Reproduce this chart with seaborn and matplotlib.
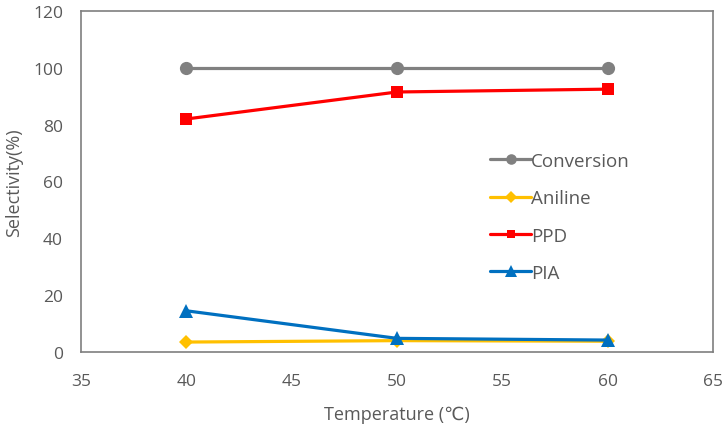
import matplotlib
matplotlib.use("Agg")
import matplotlib.pyplot as plt
import seaborn as sns
import pandas as pd

temperature = [40, 50, 60]
conversion = [100, 100, 100]
aniline = [3.5, 4.0, 3.8]
ppd = [82.0, 91.5, 92.5]
pia = [14.5, 4.8, 4.2]

series_names = ["Conversion", "Aniline", "PPD", "PIA"]
series_values = [conversion, aniline, ppd, pia]
colors = ["#808080", "#FFC000", "#FF0000", "#0070C0"]
markers = ["o", "D", "s", "^"]
msizes = [9.5, 7.5, 8, 10.5]

x_ticks = [35, 40, 45, 50, 55, 60, 65]
y_ticks = [0, 20, 40, 60, 80, 100, 120]

sns.set_theme(style="white")
plt.rcParams['font.family'] = ['Open Sans', 'DejaVu Sans']
text_color = "#595959"

fig = plt.figure(figsize=(7.25, 4.27), dpi=100)
ax = fig.add_axes([81/725, 1-353/427, (713-81)/725, (353-12)/427])

for name, vals, c, m, ms in zip(series_names, series_values, colors, markers, msizes):
    df = pd.DataFrame({"Temperature": temperature, "Value": vals})
    sns.lineplot(data=df, x="Temperature", y="Value", ax=ax, color=c, marker=m,
                 markersize=ms, markeredgewidth=0, linewidth=2.3, label=name)

ax.set_xlim(35, 65)
ax.set_ylim(0, 120)
ax.set_xticks(x_ticks)
ax.set_yticks(y_ticks)
ax.tick_params(axis="x", length=0, labelsize=12.5, colors=text_color, pad=15)
ax.tick_params(axis="y", length=0, labelsize=12.5, colors=text_color, pad=13)
ax.set_xlabel("Temperature (℃)", fontsize=13, color=text_color, labelpad=12)
ax.set_ylabel("Selectivity(%)", fontsize=13, color=text_color, labelpad=7)
for s in ax.spines.values():
    s.set_color("#7f7f7f")
    s.set_linewidth(1.2)

leg = ax.legend(loc="upper left", bbox_to_anchor=(490/725, 1-153/427),
                bbox_transform=fig.transFigure, frameon=False, fontsize=13.5,
                handlelength=2.2, handletextpad=0.0, labelspacing=1.03,
                borderpad=0, borderaxespad=0, markerscale=0.8)
for t in leg.get_texts():
    t.set_color(text_color)

fig.savefig("out.png", dpi=100)
